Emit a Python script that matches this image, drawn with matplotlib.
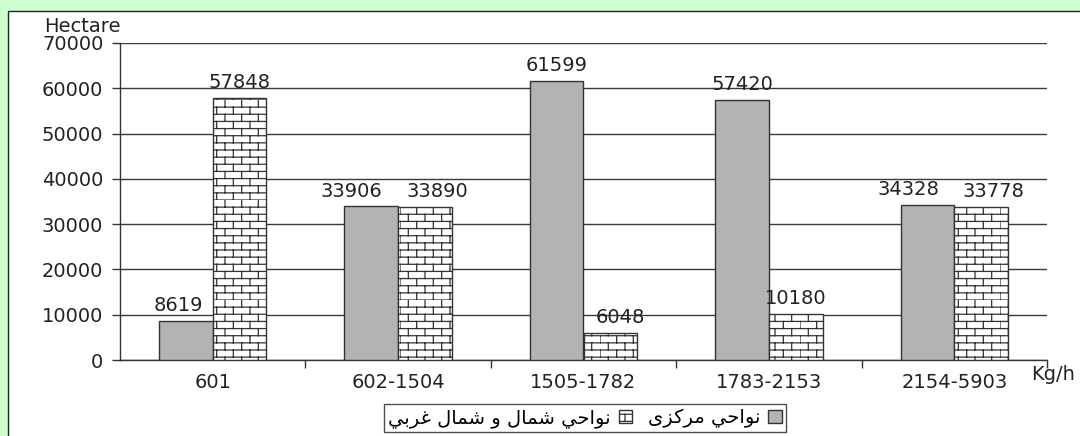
import numpy as np
import matplotlib
matplotlib.use("Agg")
import matplotlib.pyplot as plt
from matplotlib import hatch as mhatch
from matplotlib.path import Path
from matplotlib.patches import Rectangle

# data
categories = ["601", "602-1504", "1505-1782", "1783-2153", "2154-5903"]
central = [8619, 33906, 61599, 57420, 34328]       # gray bars
north = [57848, 33890, 6048, 10180, 33778]         # brick bars
y_ticks = [0, 10000, 20000, 30000, 40000, 50000, 60000, 70000]

# legend labels, Arabic presentation forms in logical order (matplotlib does no shaping)
label_central = "\uFEE7\uFEEE\uFE8D\uFEA3\uFEF2 \uFEE3\uFEAE\uFB90\uFEB0\uFBFC"  # نواحي مرکزی
label_north = ("\uFEE7\uFEEE\uFE8D\uFEA3\uFEF2 "        # نواحي
               "\uFEB7\uFEE4\uFE8E\uFEDD "               # شمال
               "\uFEED "                                 # و
               "\uFEB7\uFEE4\uFE8E\uFEDD "               # شمال
               "\uFECF\uFEAE\uFE91\uFEF2")               # غربي


def visual(s):
    """Right-to-left text -> left-to-right glyph order."""
    return s[::-1]


class BrickHatch(mhatch.HatchPatternBase):
    """Brick wall hatch, selected with 'b' in the hatch string."""

    def __init__(self, hatch, density):
        self.rows = 14
        self.cols = 6
        self.num_vertices = self.rows * (1 + self.cols) * 2 if 'b' in hatch else 0

    def set_vertices_and_codes(self, vertices, codes):
        segs = []
        for r in range(self.rows):
            y0 = r / self.rows
            y1 = (r + 1) / self.rows
            segs.append(((0.0, y0), (1.0, y0)))
            off = 0.5 if r % 2 else 0.0
            for c in range(self.cols):
                x = (c + off) / self.cols
                segs.append(((x, y0), (x, y1)))
        pts = np.array(segs).reshape(-1, 2)
        vertices[:] = pts
        codes[0::2] = Path.MOVETO
        codes[1::2] = Path.LINETO


mhatch._hatch_types.append(BrickHatch)

plt.rcParams['font.family'] = ['DejaVu Sans']
plt.rcParams['hatch.linewidth'] = 0.9

W, H = 1080, 436
fig = plt.figure(figsize=(W / 100, H / 100), dpi=100, facecolor='#CCFFCC')
fig.patches.append(Rectangle((8 / W, -0.05), 1.2, (H - 11) / H + 0.05,
                             transform=fig.transFigure, facecolor='white',
                             edgecolor='#222222', linewidth=1.0, zorder=-5))

ax = fig.add_axes([120 / W, 76 / H, 927 / W, 317 / H])
ax.set_facecolor('none')
ax.set_zorder(2)

x = np.arange(len(categories))
bw = 0.29
fs = 14
tc = '#222222'

b1 = ax.bar(x - bw / 2, central, bw, color='#B3B3B3', edgecolor='#333333',
            linewidth=1.0, zorder=3)
b2 = ax.bar(x + bw / 2, north, bw, color='white', edgecolor='#333333',
            hatch='b', linewidth=1.0, zorder=3)

# value labels; nudge apart when they would collide with the neighbour
for g, (vc, vn) in enumerate(zip(central, north)):
    close = abs(vc - vn) < 3000
    dx_c = -14 if close else (-5 if vn > vc else 0)
    dx_n = 9 if close else (7 if vc > vn and vn < 8000 else 0)
    for rect, v, dx in ((b1[g], vc, dx_c), (b2[g], vn, dx_n)):
        ax.annotate(f"{v}", (rect.get_x() + rect.get_width() / 2, v),
                    xytext=(dx, 7), textcoords='offset points',
                    ha='center', va='baseline', fontsize=fs, color=tc,
                    zorder=4)

ax.set_xlim(-0.5, len(categories) - 0.5)
ax.set_ylim(0, 70000)
ax.set_yticks(y_ticks)
ax.set_yticklabels([str(t) for t in y_ticks])
ax.set_xticks(x)
ax.set_xticklabels(categories)
ax.set_xticks(np.arange(len(categories)) + 0.5, minor=True)
ax.tick_params(axis='x', which='major', length=0, pad=9, labelsize=fs,
               labelcolor=tc)
ax.tick_params(axis='x', which='minor', length=6, width=1, color='#333333')
ax.tick_params(axis='y', length=6, width=1, color='#333333', pad=6,
               labelsize=fs, labelcolor=tc)
ax.grid(axis='y', color='#3a3a3a', linewidth=1.0, zorder=1)
ax.set_axisbelow(True)

for s in ('top', 'right'):
    ax.spines[s].set_visible(False)
for s in ('left', 'bottom'):
    ax.spines[s].set_color('#333333')
    ax.spines[s].set_linewidth(1.0)

fig.text(82 / W, 1 - 26 / H, "Hectare", ha='center', va='center',
         fontsize=fs, color=tc)
fig.text(1053 / W, 1 - 374 / H, "Kg/h", ha='center', va='center',
         fontsize=fs, color=tc)

leg = fig.legend([b2, b1], [visual(label_north), visual(label_central)],
                 loc='center', bbox_to_anchor=(585 / W, 1 - 418 / H),
                 ncol=2, markerfirst=False, frameon=True, fancybox=False,
                 edgecolor='#222222', fontsize=fs, handlelength=0.7,
                 handleheight=0.7, handletextpad=0.4, columnspacing=0.8,
                 borderpad=0.2)
leg.get_frame().set_linewidth(1.0)

fig.savefig("out.png", dpi=100, facecolor=fig.get_facecolor())
